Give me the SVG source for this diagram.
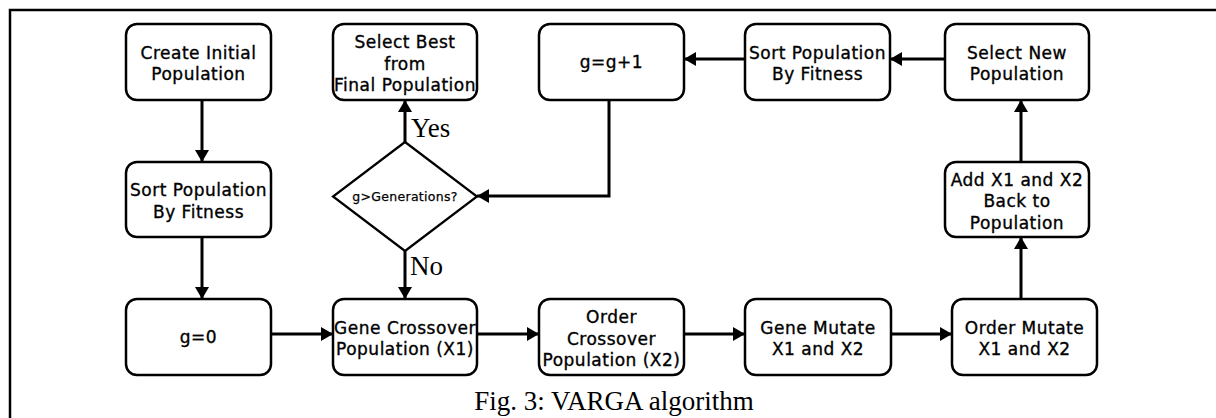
<svg xmlns="http://www.w3.org/2000/svg" width="1216" height="418" viewBox="0 0 1216 418">
  <style>
    .box { fill: #fff; stroke: #000; stroke-width: 2.5; }
    .dia { fill: #fff; stroke: #000; stroke-width: 2.2; }
    .lbl { font-family: "DejaVu Sans", "Liberation Sans", sans-serif; font-size: 17px; letter-spacing: 0.5px; fill: #000; stroke: #000; stroke-width: 0.35; text-anchor: middle; }
    .small { font-size: 12.5px; letter-spacing: 0.3px; stroke-width: 0.25; }
    .serif { font-family: "Liberation Serif", "Times New Roman", serif; font-size: 27px; fill: #000; }
    .edge { fill: none; stroke: #000; stroke-width: 3; marker-end: url(#arrow); }
    .frame { stroke: #000; stroke-width: 2.5; fill: none; }
  </style>
  <defs>
    <marker id="arrow" markerUnits="userSpaceOnUse" markerWidth="13" markerHeight="15" refX="12" refY="7" orient="auto">
      <path d="M0,0 L12,7 L0,14 Z" fill="#000"/>
    </marker>
  </defs>

  <rect width="1216" height="418" fill="#fff"/>
  <!-- figure frame -->
  <path class="frame" d="M10,418 V10 H1216"/>

  <!-- connectors -->
  <g id="connectors">
    <path class="edge" d="M202,100 V162"/>
    <path class="edge" d="M202,237 V299"/>
    <path class="edge" d="M271,334 H333"/>
    <path class="edge" d="M405,251 V299"/>
    <path class="edge" d="M405,142 V100"/>
    <path class="edge" d="M609,100 V196 H477"/>
    <path class="edge" d="M745,59 H684"/>
    <path class="edge" d="M945,59 H890"/>
    <path class="edge" d="M1021,162 V100"/>
    <path class="edge" d="M1021,299 V237"/>
    <path class="edge" d="M477,334 H539"/>
    <path class="edge" d="M684,334 H745"/>
    <path class="edge" d="M891,334 H952"/>
    <text class="serif" x="411" y="137">Yes</text>
    <text class="serif" x="410" y="275">No</text>
  </g>

  <g id="create-initial">
    <rect class="box" x="126" y="24" width="145" height="76" rx="11"/>
    <text class="lbl" x="198.5" y="58.5">Create Initial</text>
    <text class="lbl" x="198.5" y="80">Population</text>
  </g>
  <g id="sort-left">
    <rect class="box" x="126" y="162" width="145" height="75" rx="11"/>
    <text class="lbl" x="198.5" y="196">Sort Population</text>
    <text class="lbl" x="198.5" y="217.5">By Fitness</text>
  </g>
  <g id="g-zero">
    <rect class="box" x="126" y="299" width="145" height="76" rx="11"/>
    <text class="lbl" x="198.5" y="343">g=0</text>
  </g>
  <g id="select-best">
    <rect class="box" x="333" y="24" width="144" height="76" rx="11"/>
    <text class="lbl" x="405" y="48">Select Best</text>
    <text class="lbl" x="405" y="69.5">from</text>
    <text class="lbl" x="405" y="91">Final Population</text>
  </g>
  <g id="decision">
    <polygon class="dia" points="405,142 477,196.5 405,251 333,196.5"/>
    <text class="lbl small" x="405" y="201">g&gt;Generations?</text>
  </g>
  <g id="g-inc">
    <rect class="box" x="539" y="24" width="145" height="76" rx="11"/>
    <text class="lbl" x="611.5" y="68">g=g+1</text>
  </g>
  <g id="sort-right">
    <rect class="box" x="745" y="24" width="145" height="76" rx="11"/>
    <text class="lbl" x="817.5" y="58.5">Sort Population</text>
    <text class="lbl" x="817.5" y="80">By Fitness</text>
  </g>
  <g id="select-new">
    <rect class="box" x="945" y="24" width="144" height="76" rx="11"/>
    <text class="lbl" x="1017" y="58.5">Select New</text>
    <text class="lbl" x="1017" y="80">Population</text>
  </g>
  <g id="add-back">
    <rect class="box" x="945" y="162" width="144" height="75" rx="11"/>
    <text class="lbl" x="1017" y="185.5">Add X1 and X2</text>
    <text class="lbl" x="1017" y="207">Back to</text>
    <text class="lbl" x="1017" y="228.5">Population</text>
  </g>
  <g id="gene-crossover">
    <rect class="box" x="333" y="299" width="144" height="76" rx="11"/>
    <text class="lbl" x="405" y="333.5">Gene Crossover</text>
    <text class="lbl" x="405" y="355">Population (X1)</text>
  </g>
  <g id="order-crossover">
    <rect class="box" x="539" y="299" width="145" height="76" rx="11"/>
    <text class="lbl" x="611.5" y="323">Order</text>
    <text class="lbl" x="611.5" y="344.5">Crossover</text>
    <text class="lbl" x="611.5" y="366">Population (X2)</text>
  </g>
  <g id="gene-mutate">
    <rect class="box" x="745" y="299" width="146" height="76" rx="11"/>
    <text class="lbl" x="818" y="333.5">Gene Mutate</text>
    <text class="lbl" x="818" y="355">X1 and X2</text>
  </g>
  <g id="order-mutate">
    <rect class="box" x="952" y="299" width="145" height="76" rx="11"/>
    <text class="lbl" x="1024.5" y="333.5">Order Mutate</text>
    <text class="lbl" x="1024.5" y="355">X1 and X2</text>
  </g>

  <text class="serif" x="614" y="410" text-anchor="middle">Fig. 3: VARGA algorithm</text>
</svg>
